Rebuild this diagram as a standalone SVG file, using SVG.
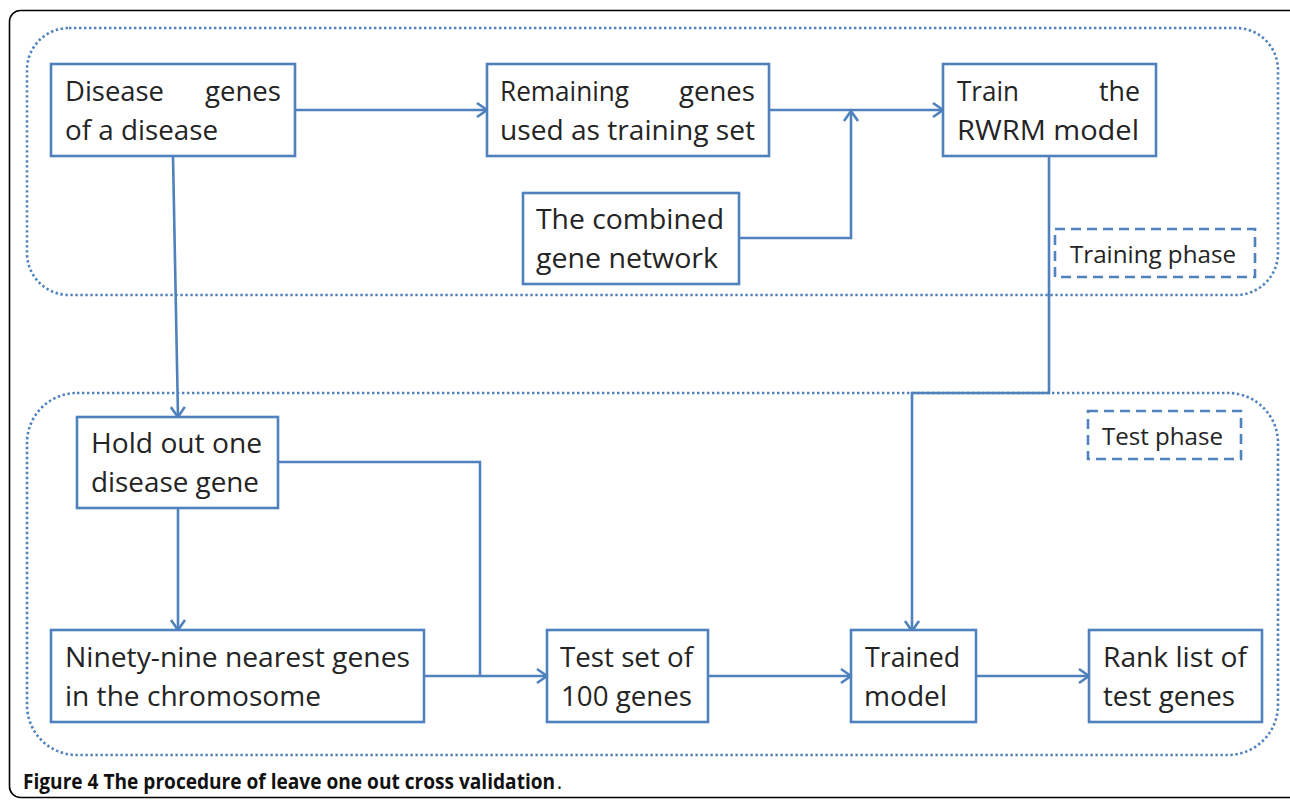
<svg xmlns="http://www.w3.org/2000/svg" width="1290" height="800" viewBox="0 0 1290 800">
  <style>
    .box { fill: #ffffff; stroke: #4f81bd; stroke-width: 2.6; }
    .tag { fill: #ffffff; stroke: #4f81bd; stroke-width: 2.6; stroke-dasharray: 10 6; }
    .region { fill: none; stroke: #4f81bd; stroke-width: 2.6; stroke-dasharray: 2.4 2.6; }
    .lbl { font-family: "Open Sans", "Noto Sans", sans-serif; font-size: 27px; fill: #242424; }
    .small { font-family: "Open Sans", "Noto Sans", sans-serif; font-size: 24px; fill: #242424; }
    .link { fill: none; stroke: #4f81bd; stroke-width: 2.6; }
    .cap { font-family: "Open Sans", "Liberation Sans", sans-serif; font-size: 21px; fill: #111111; }
  </style>
  <defs>
    <marker id="arrow" markerUnits="userSpaceOnUse" markerWidth="14" markerHeight="18" refX="11" refY="8" orient="auto" viewBox="0 0 14 16">
      <path d="M1,1 L11,8 L1,15" fill="none" stroke="#4f81bd" stroke-width="2.6"/>
    </marker>
  </defs>

  <rect width="1290" height="800" fill="#ffffff"/>

  <!-- outer figure frame -->
  <rect x="9.5" y="10.5" width="1300" height="787" rx="11" fill="none" stroke="#000000" stroke-width="1.6"/>

  <!-- phase regions -->
  <rect id="training-region" class="region" x="27" y="28" width="1251" height="267" rx="42"/>
  <rect id="test-region" class="region" x="27" y="393" width="1251" height="362" rx="50"/>

  <!-- connectors -->
  <g id="connectors">
    <path class="link" d="M295,110 L487,110" marker-end="url(#arrow)"/>
    <path class="link" d="M769,110 L943,110" marker-end="url(#arrow)"/>
    <path class="link" d="M739,238 L851,238 L851,111" marker-end="url(#arrow)"/>
    <path class="link" d="M173,156 L178,417" marker-end="url(#arrow)"/>
    <path class="link" d="M1049,156 L1049,393 L912,393 L912,631" marker-end="url(#arrow)"/>
    <path class="link" d="M278,462 L480,462 L480,676"/>
    <path class="link" d="M178,508 L178,630" marker-end="url(#arrow)"/>
    <path class="link" d="M424,676 L547,676" marker-end="url(#arrow)"/>
    <path class="link" d="M708,676 L851,676" marker-end="url(#arrow)"/>
    <path class="link" d="M976,676 L1089,676" marker-end="url(#arrow)"/>
  </g>

  <!-- training phase nodes -->
  <g id="disease-genes">
    <rect class="box" x="51" y="64" width="244" height="92"/>
    <text class="lbl" x="65" y="101" textLength="99" lengthAdjust="spacingAndGlyphs">Disease</text>
    <text class="lbl" x="205" y="101" textLength="76" lengthAdjust="spacingAndGlyphs">genes</text>
    <text class="lbl" x="65" y="140" textLength="153" lengthAdjust="spacingAndGlyphs">of a disease</text>
  </g>

  <g id="remaining-genes">
    <rect class="box" x="487" y="64" width="282" height="92"/>
    <text class="lbl" x="500" y="101" textLength="129" lengthAdjust="spacingAndGlyphs">Remaining</text>
    <text class="lbl" x="679" y="101" textLength="76" lengthAdjust="spacingAndGlyphs">genes</text>
    <text class="lbl" x="500" y="140" textLength="255" lengthAdjust="spacingAndGlyphs">used as training set</text>
  </g>

  <g id="train-model">
    <rect class="box" x="943" y="64" width="213" height="92"/>
    <text class="lbl" x="957" y="101" textLength="62" lengthAdjust="spacingAndGlyphs">Train</text>
    <text class="lbl" x="1099" y="101" textLength="41" lengthAdjust="spacingAndGlyphs">the</text>
    <text class="lbl" x="957" y="140" textLength="182" lengthAdjust="spacingAndGlyphs">RWRM model</text>
  </g>

  <g id="combined-network">
    <rect class="box" x="523" y="193" width="216" height="91"/>
    <text class="lbl" x="536" y="229" textLength="188" lengthAdjust="spacingAndGlyphs">The combined</text>
    <text class="lbl" x="536" y="268" textLength="182" lengthAdjust="spacingAndGlyphs">gene network</text>
  </g>

  <g id="training-phase-tag">
    <rect class="tag" x="1055" y="229" width="200" height="48"/>
    <text class="small" x="1070" y="263" textLength="166" lengthAdjust="spacingAndGlyphs">Training phase</text>
  </g>

  <!-- test phase nodes -->
  <g id="test-phase-tag">
    <rect class="tag" x="1088" y="411" width="153" height="48"/>
    <text class="small" x="1102" y="445" textLength="121" lengthAdjust="spacingAndGlyphs">Test phase</text>
  </g>

  <g id="hold-out">
    <rect class="box" x="77" y="417" width="201" height="91"/>
    <text class="lbl" x="91" y="453" textLength="171" lengthAdjust="spacingAndGlyphs">Hold out one</text>
    <text class="lbl" x="91" y="492" textLength="168" lengthAdjust="spacingAndGlyphs">disease gene</text>
  </g>

  <g id="nearest-genes">
    <rect class="box" x="51" y="630" width="373" height="92"/>
    <text class="lbl" x="65" y="667" textLength="345" lengthAdjust="spacingAndGlyphs">Ninety-nine nearest genes</text>
    <text class="lbl" x="65" y="706" textLength="256" lengthAdjust="spacingAndGlyphs">in the chromosome</text>
  </g>

  <g id="test-set">
    <rect class="box" x="547" y="630" width="161" height="92"/>
    <text class="lbl" x="560" y="667" textLength="133" lengthAdjust="spacingAndGlyphs">Test set of</text>
    <text class="lbl" x="561" y="706" textLength="131" lengthAdjust="spacingAndGlyphs">100 genes</text>
  </g>

  <g id="trained-model">
    <rect class="box" x="851" y="630" width="125" height="92"/>
    <text class="lbl" x="865" y="667" textLength="95" lengthAdjust="spacingAndGlyphs">Trained</text>
    <text class="lbl" x="864" y="706" textLength="83" lengthAdjust="spacingAndGlyphs">model</text>
  </g>

  <g id="rank-list">
    <rect class="box" x="1089" y="630" width="173" height="92"/>
    <text class="lbl" x="1103" y="667" textLength="144" lengthAdjust="spacingAndGlyphs">Rank list of</text>
    <text class="lbl" x="1103" y="706" textLength="132" lengthAdjust="spacingAndGlyphs">test genes</text>
  </g>

  <!-- caption -->
  <text class="cap" x="23" y="789" textLength="539" lengthAdjust="spacingAndGlyphs"><tspan font-weight="bold">Figure 4 The procedure of leave one out cross validation</tspan><tspan dx="2">.</tspan></text>
</svg>
